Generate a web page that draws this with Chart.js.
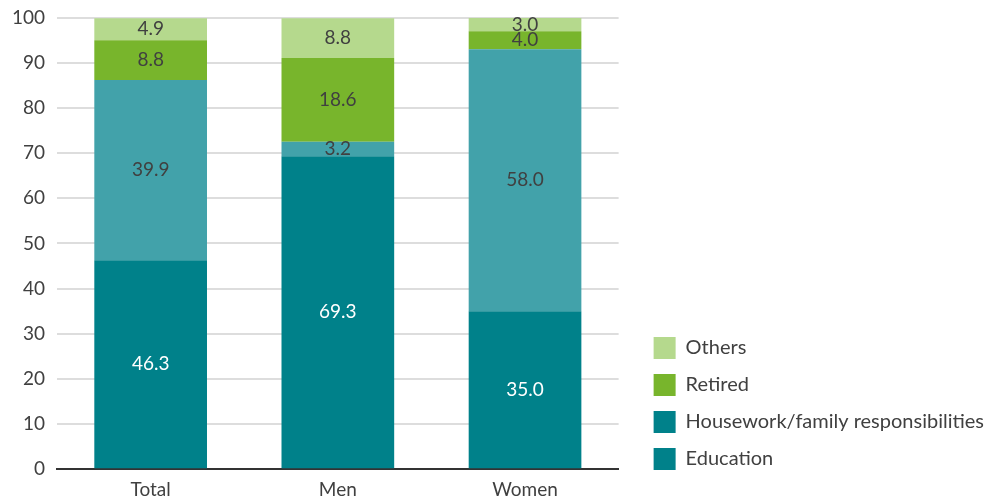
<!DOCTYPE html>
<html>
<head>
<meta charset="utf-8">
<script src="https://cdn.jsdelivr.net/npm/chart.js@4/dist/chart.umd.min.js"></script>
<style>
  body { margin: 0; background: #fff; }
  #wrap { width: 996px; height: 502px; }
</style>
</head>
<body>
<div id="wrap"><canvas id="myChart" width="996" height="502"></canvas></div>
<script>
const categories = ["Total", "Men", "Women"];
const education = [46.3, 69.3, 35.0];
const housework = [39.9, 3.2, 58.0];
const retired = [8.8, 18.6, 4.0];
const others = [4.9, 8.8, 3.0];
const yTicks = [0, 10, 20, 30, 40, 50, 60, 70, 80, 90, 100];

const FONT = "Lato, sans-serif";
const TEXT = "#404040";

// legend in the source shows housework swatch in the dark teal
const legendColors = {
  "Education": "#00818A",
  "Housework/family responsibilities": "#00818A",
  "Retired": "#78B52C",
  "Others": "#B5D98D",
};

const valueLabels = {
  id: "valueLabels",
  afterDatasetsDraw(chart) {
    const c = chart.ctx;
    c.save();
    c.font = "19px " + FONT;
    c.textAlign = "center";
    c.textBaseline = "middle";
    chart.data.datasets.forEach((ds, i) => {
      chart.getDatasetMeta(i).data.forEach((bar, j) => {
        const v = ds.data[j];
        const y = (bar.y + bar.base) / 2;
        c.fillStyle = ds.labelColor;
        c.fillText(v.toFixed(1), bar.x, y);
      });
    });
    c.restore();
  },
};

// nudge the legend: a bit to the right, and up off the bottom edge
const legendNudge = {
  id: "legendNudge",
  afterLayout(chart) {
    const lg = chart.legend;
    lg.left += 20;
    lg.right += 20;
    lg.bottom -= 17;
  },
};

const ctx = document.getElementById("myChart").getContext("2d");

function setData() {
  const myChart = new Chart(ctx, {
    type: "bar",
    data: {
      labels: categories,
      datasets: [
        { label: "Education", data: education, backgroundColor: "#00818A", labelColor: "#ffffff" },
        { label: "Housework/family responsibilities", data: housework, backgroundColor: "#42A2AA", labelColor: TEXT },
        { label: "Retired", data: retired, backgroundColor: "#78B52C", labelColor: TEXT },
        { label: "Others", data: others, backgroundColor: "#B5D98D", labelColor: TEXT },
      ],
    },
    options: {
      responsive: false,
      animation: false,
      layout: { padding: { top: 0, right: 22, left: 0, bottom: 0 } },
      datasets: { bar: { categoryPercentage: 1, barPercentage: 0.602 } },
      plugins: {
        tooltip: { enabled: false },
        legend: {
          position: "right",
          align: "end",
          reverse: true,
          maxWidth: 400,
          labels: {
            boxWidth: 22,
            boxHeight: 22,
            padding: 15,
            color: TEXT,
            font: { family: FONT, size: 20 },
            generateLabels(chart) {
              return chart.data.datasets.map((ds, i) => ({
                text: ds.label,
                fillStyle: legendColors[ds.label],
                strokeStyle: legendColors[ds.label],
                lineWidth: 0,
                fontColor: TEXT,
                hidden: false,
                datasetIndex: i,
              }));
            },
          },
        },
      },
      scales: {
        x: {
          stacked: true,
          grid: { display: false },
          border: { display: true, color: "#333", width: 2 },
          ticks: { color: TEXT, font: { family: FONT, size: 19 }, padding: 1 },
        },
        y: {
          stacked: true,
          min: 0,
          max: 100,
          afterBuildTicks(axis) {
            axis.ticks = yTicks.map((v) => ({ value: v }));
          },
          grid: { color: "#dddddd", lineWidth: 2, drawTicks: false },
          border: { display: false },
          ticks: { color: TEXT, font: { family: FONT, size: 19, lineHeight: 0.6 }, padding: 12 },
        },
      },
    },
    plugins: [valueLabels, legendNudge],
  });
}

document.fonts.load("20px Lato").then(setData, setData);
</script>
</body>
</html>
